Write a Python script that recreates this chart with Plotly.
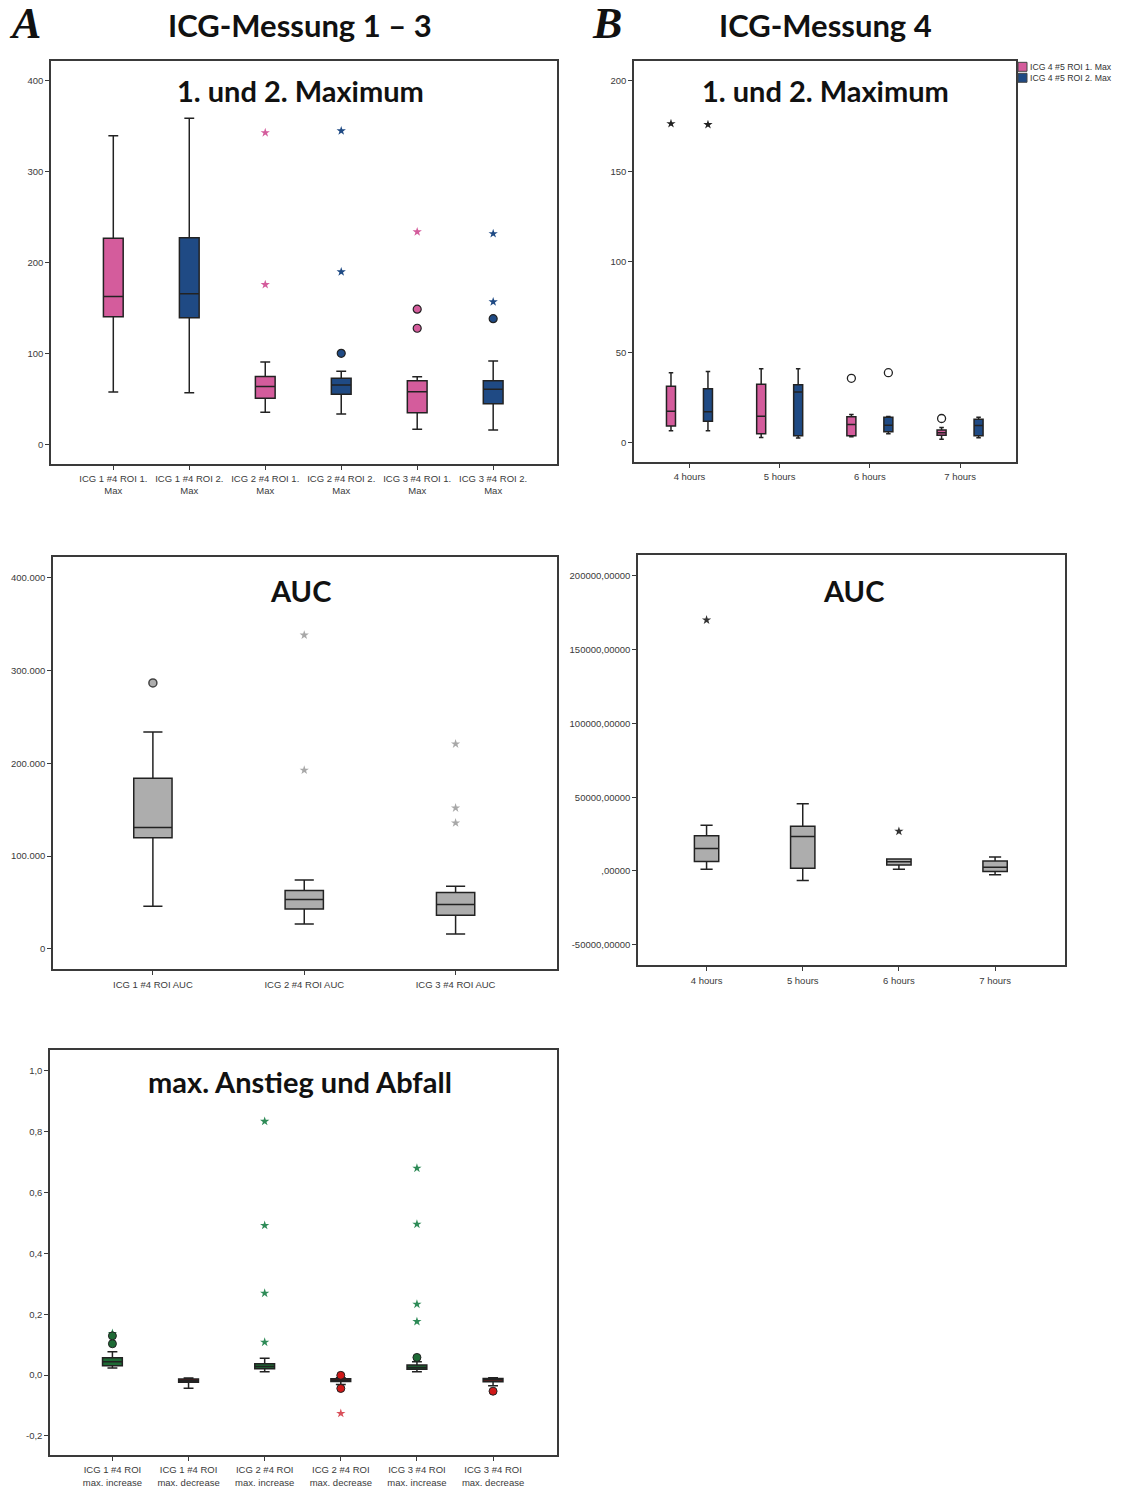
import plotly.graph_objects as go

# ---------------- DATA ----------------
# Panel A: 1. und 2. Maximum (ICG-Messung 1-3)
a_max_labels = ["ICG 1 #4 ROI 1.<br>Max", "ICG 1 #4 ROI 2.<br>Max", "ICG 2 #4 ROI 1.<br>Max",
                "ICG 2 #4 ROI 2.<br>Max", "ICG 3 #4 ROI 1.<br>Max", "ICG 3 #4 ROI 2.<br>Max"]
a_max_lower = [57.9, 57.1, 35.5, 33.7, 16.8, 16.1]
a_max_q1 = [140.7, 139.6, 51.0, 55.3, 35.2, 45.0]
a_max_median = [163.0, 166.0, 64.0, 65.6, 58.2, 60.8]
a_max_q3 = [227.0, 227.5, 75.0, 72.9, 70.3, 70.3]
a_max_upper = [339.6, 359.0, 90.8, 80.6, 74.7, 92.0]
a_max_extreme = [[], [], [343, 176], [345, 190], [234], [232, 157]]
a_max_outliers = [[], [], [], [100.4], [149, 128], [138.5]]
a_max_yticks = [0, 100, 200, 300, 400]
a_max_yticktext = ["0", "100", "200", "300", "400"]

# Panel B: 1. und 2. Maximum (ICG-Messung 4)
b_hours = ["4 hours", "5 hours", "6 hours", "7 hours"]
b_roi1_lower = [6.6, 2.9, 3.3, 2.0]
b_roi1_q1 = [9.2, 5.0, 3.9, 4.2]
b_roi1_median = [17.4, 14.7, 10.1, 5.5]
b_roi1_q3 = [31.2, 32.3, 14.3, 7.0]
b_roi1_upper = [38.7, 40.9, 15.6, 8.4]
b_roi1_extreme = [[176.3], [], [], []]
b_roi1_outliers = [[], [], [35.6], [13.4]]
b_roi2_lower = [6.6, 2.6, 5.0, 2.8]
b_roi2_q1 = [11.9, 3.9, 6.1, 3.9]
b_roi2_median = [17.1, 28.1, 9.7, 9.5]
b_roi2_q3 = [29.9, 32.1, 14.1, 13.0]
b_roi2_upper = [39.3, 40.9, 14.5, 14.1]
b_roi2_extreme = [[175.8], [], [], []]
b_roi2_outliers = [[], [], [38.7], []]
b_max_series = ["ICG 4 #5 ROI 1. Max", "ICG 4 #5 ROI 2. Max"]
b_max_yticks = [0, 50, 100, 150, 200]
b_max_yticktext = ["0", "50", "100", "150", "200"]

# Panel A: AUC
a_auc_labels = ["ICG 1 #4 ROI AUC", "ICG 2 #4 ROI AUC", "ICG 3 #4 ROI AUC"]
a_auc_lower = [46100, 26800, 16100]
a_auc_q1 = [119600, 42900, 36400]
a_auc_median = [130700, 53200, 47900]
a_auc_q3 = [183900, 62900, 60700]
a_auc_upper = [233600, 74300, 67500]
a_auc_extreme = [[], [337900, 192500], [220700, 151800, 135700]]
a_auc_outliers = [[286400], [], []]
a_auc_yticks = [0, 100000, 200000, 300000, 400000]
a_auc_yticktext = ["0", "100.000", "200.000", "300.000", "400.000"]

# Panel B: AUC
b_auc_lower = [1100, -6500, 1100, -2500]
b_auc_q1 = [6500, 1800, 4000, -400]
b_auc_median = [15300, 23300, 6300, 2500]
b_auc_q3 = [23800, 30300, 8100, 6700]
b_auc_upper = [31000, 45600, 8200, 9400]
b_auc_extreme = [[170100], [], [26900], []]
b_auc_yticks = [-50000, 0, 50000, 100000, 150000, 200000]
b_auc_yticktext = ["-50000,00000", ",00000", "50000,00000", "100000,00000", "150000,00000", "200000,00000"]

# Panel A: max. Anstieg und Abfall
a_slope_labels = ["ICG 1 #4 ROI<br>max. increase", "ICG 1 #4 ROI<br>max. decrease",
                  "ICG 2 #4 ROI<br>max. increase", "ICG 2 #4 ROI<br>max. decrease",
                  "ICG 3 #4 ROI<br>max. increase", "ICG 3 #4 ROI<br>max. decrease"]
a_slope_lower = [0.023, -0.043, 0.011, -0.031, 0.011, -0.035]
a_slope_q1 = [0.031, -0.024, 0.021, -0.021, 0.019, -0.022]
a_slope_median = [0.044, -0.019, 0.028, -0.018, 0.025, -0.015]
a_slope_q3 = [0.057, -0.013, 0.037, -0.012, 0.033, -0.011]
a_slope_upper = [0.077, -0.010, 0.055, -0.009, 0.044, -0.009]
a_slope_extreme = [[0.137], [], [0.834, 0.492, 0.269, 0.108], [-0.126], [0.680, 0.496, 0.233, 0.176], []]
a_slope_outliers = [[0.129, 0.103], [], [], [-0.001, -0.044], [0.058], [-0.053]]
a_slope_yticks = [-0.2, 0.0, 0.2, 0.4, 0.6, 0.8, 1.0]
a_slope_yticktext = ["-0,2", "0,0", "0,2", "0,4", "0,6", "0,8", "1,0"]

# ---------------- STYLE ----------------
W, H = 1129, 1488
PINK, BLUE = "#D45C9C", "#1F4A84"
GREEN, DRED, RED = "#1E6B35", "#7A1E1E", "#D01818"
GREY = "#ADADAD"
EDGE = "#222222"
AX = "#3a3a3a"
TITLE_FONT = "Lato"
TICK_FONT = "Liberation Sans"

fig = go.Figure()

def dom_x(a, b):
    return [a / W, b / W]

def dom_y(top, bottom):
    return [1 - bottom / H, 1 - top / H]

panels = {
    1: dict(x=dom_x(51, 557), y=dom_y(61, 465)),
    2: dict(x=dom_x(634, 1016), y=dom_y(61, 463)),
    3: dict(x=dom_x(53, 557), y=dom_y(558, 972)),
    4: dict(x=dom_x(638, 1065), y=dom_y(556, 968)),
    5: dict(x=dom_x(50, 557), y=dom_y(1053, 1459)),
}

def add_boxes(n, xs, lower, q1, med, q3, upper, fill, width, name):
    fig.add_trace(go.Box(
        x=xs, lowerfence=lower, q1=q1, median=med, q3=q3, upperfence=upper,
        fillcolor=fill, line=dict(color=EDGE, width=1.5), width=width,
        whiskerwidth=0.5, boxpoints=False, name=name, showlegend=False,
        xaxis=f"x{n}", yaxis=f"y{n}", hoverinfo="skip"))

def add_points(n, xs, groups, symbol, color, size, line_color, line_width=1.0):
    px, py = [], []
    for x, vals in zip(xs, groups):
        for v in vals:
            px.append(x)
            py.append(v)
    if not px:
        return
    fig.add_trace(go.Scatter(
        x=px, y=py, mode="markers", showlegend=False, hoverinfo="skip",
        marker=dict(symbol=symbol, size=size, color=color,
                    line=dict(color=line_color, width=line_width)),
        xaxis=f"x{n}", yaxis=f"y{n}"))

def sel(lst, idx):
    return [lst[i] for i in idx]

# Panel 1
idx_all = list(range(len(a_max_labels)))
for par, color, name in [(0, PINK, "ROI 1"), (1, BLUE, "ROI 2")]:
    idx = [i for i in idx_all if i % 2 == par]
    add_boxes(1, idx, sel(a_max_lower, idx), sel(a_max_q1, idx), sel(a_max_median, idx),
              sel(a_max_q3, idx), sel(a_max_upper, idx), color, 0.26, name)
    add_points(1, idx, sel(a_max_extreme, idx), "star", color, 7, color, 0)
    add_points(1, idx, sel(a_max_outliers, idx), "circle", color, 8, EDGE, 1.2)

# Panel 2
hidx = list(range(len(b_hours)))
off = 0.205
for k, (lo, q1, md, q3, up, ex, ol, color) in enumerate([
        (b_roi1_lower, b_roi1_q1, b_roi1_median, b_roi1_q3, b_roi1_upper, b_roi1_extreme, b_roi1_outliers, PINK),
        (b_roi2_lower, b_roi2_q1, b_roi2_median, b_roi2_q3, b_roi2_upper, b_roi2_extreme, b_roi2_outliers, BLUE)]):
    xs = [i + (off if k else -off) for i in hidx]
    add_boxes(2, xs, lo, q1, md, q3, up, color, 0.1, b_max_series[k])
    add_points(2, xs, ex, "star", "#222", 7, "#222", 0)
    add_points(2, xs, ol, "circle-open", "#222", 8, "#222", 1.3)

# Panel 3
aidx = list(range(len(a_auc_labels)))
add_boxes(3, aidx, a_auc_lower, a_auc_q1, a_auc_median, a_auc_q3, a_auc_upper, GREY, 0.253, "AUC")
add_points(3, aidx, a_auc_extreme, "star", "#A8A8A8", 7, "#A8A8A8", 0)
add_points(3, aidx, a_auc_outliers, "circle", GREY, 8, "#444", 1.5)

# Panel 4
add_boxes(4, hidx, b_auc_lower, b_auc_q1, b_auc_median, b_auc_q3, b_auc_upper, GREY, 0.253, "AUC")
add_points(4, hidx, b_auc_extreme, "star", "#333", 7, "#333", 0)

# Panel 5
sidx = list(range(len(a_slope_labels)))
for par, color, ocol, scol in [(0, GREEN, GREEN, "#2E8B57"), (1, DRED, RED, "#D9505A")]:
    idx = [i for i in sidx if i % 2 == par]
    add_boxes(5, idx, sel(a_slope_lower, idx), sel(a_slope_q1, idx), sel(a_slope_median, idx),
              sel(a_slope_q3, idx), sel(a_slope_upper, idx), color, 0.26, "slope")
    add_points(5, idx, sel(a_slope_extreme, idx), "star", scol, 7, scol, 0)
    add_points(5, idx, sel(a_slope_outliers, idx), "circle", ocol, 8, EDGE, 1.0)

# ---------------- AXES ----------------
def axis_common():
    return dict(showline=True, linecolor=AX, linewidth=1.5, mirror=True,
                ticks="outside", ticklen=4, tickcolor=AX, tickwidth=1,
                showgrid=False, zeroline=False, fixedrange=True,
                tickfont=dict(family=TICK_FONT, size=9.5, color="#3a3a3a"))

axes_cfg = {
    1: dict(xr=[-0.82, 5.84], xt=idx_all, xl=a_max_labels, yr=[-21, 422], yt=a_max_yticks, yl=a_max_yticktext),
    2: dict(xr=[-0.615, 3.62], xt=hidx, xl=b_hours, yr=[-10.5, 211], yt=b_max_yticks, yl=b_max_yticktext),
    3: dict(xr=[-0.66, 2.67], xt=aidx, xl=a_auc_labels, yr=[-22000, 422500], yt=a_auc_yticks, yl=a_auc_yticktext),
    4: dict(xr=[-0.713, 3.727], xt=hidx, xl=b_hours, yr=[-64000, 214500], yt=b_auc_yticks, yl=b_auc_yticktext),
    5: dict(xr=[-0.82, 5.84], xt=sidx, xl=a_slope_labels, yr=[-0.263, 1.068], yt=a_slope_yticks, yl=a_slope_yticktext),
}

layout_axes = {}
for n, c in axes_cfg.items():
    xa = axis_common()
    xa.update(domain=panels[n]["x"], range=c["xr"], tickmode="array", tickvals=c["xt"],
              ticktext=c["xl"], anchor=f"y{n}", ticklabelstandoff=1)
    ya = axis_common()
    ya.update(domain=panels[n]["y"], range=c["yr"], tickmode="array", tickvals=c["yt"],
              ticktext=c["yl"], anchor=f"x{n}")
    layout_axes["xaxis" if n == 1 else f"xaxis{n}"] = xa
    layout_axes["yaxis" if n == 1 else f"yaxis{n}"] = ya

# ---------------- ANNOTATIONS ----------------
ann = []
def txt(x, y, s, size, family=TITLE_FONT, color="#111", xanchor="center", yanchor="middle", **kw):
    ann.append(dict(x=x / W, y=1 - y / H, xref="paper", yref="paper", text=s, showarrow=False,
                    xanchor=xanchor, yanchor=yanchor,
                    font=dict(family=family, size=size, color=color, **kw)))

txt(25, 24, "<b><i>A</i></b>", 44, family="Liberation Serif")
txt(300, 25, "<b>ICG-Messung 1 – 3</b>", 31)
txt(607, 24, "<b><i>B</i></b>", 44, family="Liberation Serif")
txt(825, 25, "<b>ICG-Messung 4</b>", 31)
txt(300, 91, "<b>1. und 2. Maximum</b>", 29)
txt(825, 91, "<b>1. und 2. Maximum</b>", 29)
txt(300, 592, "<b>AUC</b>", 29)
txt(853, 592, "<b>AUC</b>", 29)
txt(300, 1084, "<b>max. Anstieg und Abfall</b>", 29)

# manual legend
shapes = []
for k, (name, color) in enumerate(zip(b_max_series, [PINK, BLUE])):
    yc = 67 + k * 11
    shapes.append(dict(type="rect", xref="paper", yref="paper",
                       x0=1018 / W, x1=1027 / W, y0=1 - (yc + 4.5) / H, y1=1 - (yc - 4.5) / H,
                       fillcolor=color, line=dict(color="#444", width=1)))
    txt(1028, yc, name, 8.7, family=TICK_FONT, color="#333", xanchor="left")

fig.update_layout(width=W, height=H, margin=dict(l=0, r=0, t=0, b=0),
                  paper_bgcolor="white", plot_bgcolor="white", showlegend=False,
                  boxmode="overlay", annotations=ann, shapes=shapes, **layout_axes)

fig.write_html("out.html", config={"displayModeBar": False},
               post_script="document.body.style.margin='0px';document.body.style.overflow='hidden';")
